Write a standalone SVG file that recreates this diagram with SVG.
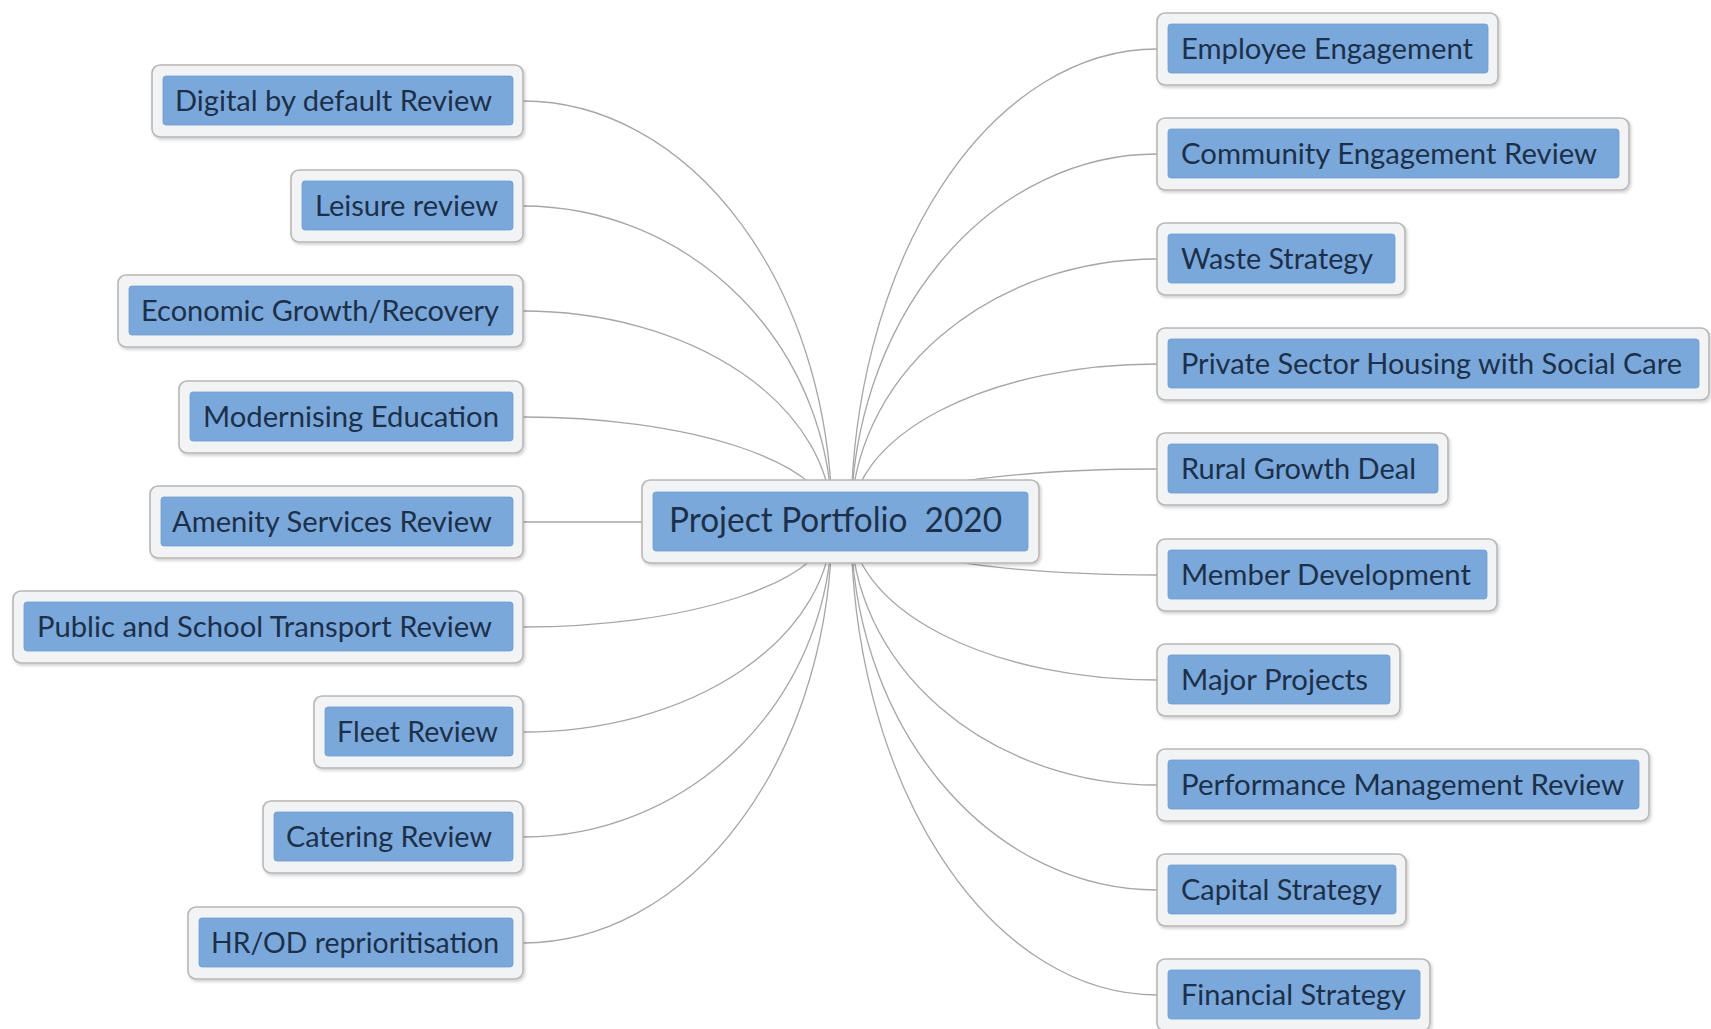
<svg xmlns="http://www.w3.org/2000/svg" width="1711" height="1029" viewBox="0 0 1711 1029">
<defs>
<style>
.outer{fill:#f2f3f5;stroke:#b9b7b4;stroke-width:1.6;filter:url(#sh)}
.inner{fill:#7ba8db;stroke:#6f9cd0;stroke-width:0.8}
.lbl{font-family:Lato,"Open Sans","Liberation Sans",sans-serif;font-size:29px;fill:#1c3049;white-space:pre}
.main{font-size:35px}
.con{fill:none;stroke:#a6a6a6;stroke-width:1.3}
</style>
<filter id="sh" x="-5%" y="-20%" width="110%" height="140%">
<feDropShadow dx="1.5" dy="2" stdDeviation="1.5" flood-color="#000" flood-opacity="0.18"/>
</filter>
</defs>
<rect width="1711" height="1029" fill="#ffffff"/>
<g id="connectors">
<path class="con" d="M523,101 A309,421 0 0 1 832,522"/>
<path class="con" d="M523,206 A309,316 0 0 1 832,522"/>
<path class="con" d="M523,311 A309,211 0 0 1 832,522"/>
<path class="con" d="M523,417 A309,105 0 0 1 832,522"/>
<path class="con" d="M523,522 L832,522"/>
<path class="con" d="M523,627 A309,105 0 0 0 832,522"/>
<path class="con" d="M523,732 A309,210 0 0 0 832,522"/>
<path class="con" d="M523,837 A309,315 0 0 0 832,522"/>
<path class="con" d="M523,943 A309,421 0 0 0 832,522"/>
<path class="con" d="M1157,49 A306,473 0 0 0 851,522"/>
<path class="con" d="M1157,154 A306,368 0 0 0 851,522"/>
<path class="con" d="M1157,259 A306,263 0 0 0 851,522"/>
<path class="con" d="M1157,364 A306,158 0 0 0 851,522"/>
<path class="con" d="M1157,469 A306,53 0 0 0 851,522"/>
<path class="con" d="M1157,575 A306,53 0 0 1 851,522"/>
<path class="con" d="M1157,680 A306,158 0 0 1 851,522"/>
<path class="con" d="M1157,785 A306,263 0 0 1 851,522"/>
<path class="con" d="M1157,890 A306,368 0 0 1 851,522"/>
<path class="con" d="M1157,995 A306,473 0 0 1 851,522"/>
</g>
<g id="center">
<rect class="outer" x="642" y="480" width="397" height="83" rx="8"/>
<rect class="inner" x="653" y="492" width="375" height="59" rx="3"/>
<text class="lbl main" x="669" y="532" textLength="333" lengthAdjust="spacingAndGlyphs">Project Portfolio  2020</text>
</g>
<g id="n-digital">
<rect class="outer" x="152" y="65" width="371" height="72" rx="8"/>
<rect class="inner" x="163" y="76" width="350" height="49" rx="3"/>
<text class="lbl" x="175" y="111" textLength="317" lengthAdjust="spacingAndGlyphs">Digital by default Review</text>
</g>
<g id="n-leisure">
<rect class="outer" x="291" y="170" width="232" height="72" rx="8"/>
<rect class="inner" x="302" y="181" width="211" height="49" rx="3"/>
<text class="lbl" x="315" y="216" textLength="183" lengthAdjust="spacingAndGlyphs">Leisure review</text>
</g>
<g id="n-economic">
<rect class="outer" x="118" y="275" width="405" height="72" rx="8"/>
<rect class="inner" x="129" y="286" width="384" height="49" rx="3"/>
<text class="lbl" x="141" y="321" textLength="358" lengthAdjust="spacingAndGlyphs">Economic Growth/Recovery</text>
</g>
<g id="n-modernising">
<rect class="outer" x="179" y="381" width="344" height="72" rx="8"/>
<rect class="inner" x="190" y="392" width="323" height="49" rx="3"/>
<text class="lbl" x="203" y="427" textLength="296" lengthAdjust="spacingAndGlyphs">Modernising Education</text>
</g>
<g id="n-amenity">
<rect class="outer" x="150" y="486" width="373" height="72" rx="8"/>
<rect class="inner" x="161" y="497" width="352" height="49" rx="3"/>
<text class="lbl" x="172" y="532" textLength="320" lengthAdjust="spacingAndGlyphs">Amenity Services Review</text>
</g>
<g id="n-transport">
<rect class="outer" x="13" y="591" width="510" height="72" rx="8"/>
<rect class="inner" x="24" y="602" width="489" height="49" rx="3"/>
<text class="lbl" x="37" y="637" textLength="455" lengthAdjust="spacingAndGlyphs">Public and School Transport Review</text>
</g>
<g id="n-fleet">
<rect class="outer" x="314" y="696" width="209" height="72" rx="8"/>
<rect class="inner" x="325" y="707" width="188" height="49" rx="3"/>
<text class="lbl" x="337" y="742" textLength="161" lengthAdjust="spacingAndGlyphs">Fleet Review</text>
</g>
<g id="n-catering">
<rect class="outer" x="263" y="801" width="260" height="72" rx="8"/>
<rect class="inner" x="274" y="812" width="239" height="49" rx="3"/>
<text class="lbl" x="286" y="847" textLength="206" lengthAdjust="spacingAndGlyphs">Catering Review</text>
</g>
<g id="n-hrod">
<rect class="outer" x="188" y="907" width="335" height="72" rx="8"/>
<rect class="inner" x="199" y="918" width="314" height="49" rx="3"/>
<text class="lbl" x="211" y="953" textLength="288" lengthAdjust="spacingAndGlyphs">HR/OD reprioritisation</text>
</g>
<g id="n-employee">
<rect class="outer" x="1157" y="13" width="341" height="72" rx="8"/>
<rect class="inner" x="1168" y="24" width="320" height="49" rx="3"/>
<text class="lbl" x="1181" y="59" textLength="292" lengthAdjust="spacingAndGlyphs">Employee Engagement</text>
</g>
<g id="n-community">
<rect class="outer" x="1157" y="118" width="472" height="72" rx="8"/>
<rect class="inner" x="1168" y="129" width="451" height="49" rx="3"/>
<text class="lbl" x="1181" y="164" textLength="416" lengthAdjust="spacingAndGlyphs">Community Engagement Review</text>
</g>
<g id="n-waste">
<rect class="outer" x="1157" y="223" width="248" height="72" rx="8"/>
<rect class="inner" x="1168" y="234" width="227" height="49" rx="3"/>
<text class="lbl" x="1181" y="269" textLength="192" lengthAdjust="spacingAndGlyphs">Waste Strategy</text>
</g>
<g id="n-private">
<rect class="outer" x="1157" y="328" width="552" height="72" rx="8"/>
<rect class="inner" x="1168" y="339" width="531" height="49" rx="3"/>
<text class="lbl" x="1181" y="374" textLength="501" lengthAdjust="spacingAndGlyphs">Private Sector Housing with Social Care</text>
</g>
<g id="n-rural">
<rect class="outer" x="1157" y="433" width="291" height="72" rx="8"/>
<rect class="inner" x="1168" y="444" width="270" height="49" rx="3"/>
<text class="lbl" x="1181" y="479" textLength="235" lengthAdjust="spacingAndGlyphs">Rural Growth Deal</text>
</g>
<g id="n-member">
<rect class="outer" x="1157" y="539" width="340" height="72" rx="8"/>
<rect class="inner" x="1168" y="550" width="319" height="49" rx="3"/>
<text class="lbl" x="1181" y="585" textLength="290" lengthAdjust="spacingAndGlyphs">Member Development</text>
</g>
<g id="n-major">
<rect class="outer" x="1157" y="644" width="243" height="72" rx="8"/>
<rect class="inner" x="1168" y="655" width="222" height="49" rx="3"/>
<text class="lbl" x="1181" y="690" textLength="187" lengthAdjust="spacingAndGlyphs">Major Projects</text>
</g>
<g id="n-performance">
<rect class="outer" x="1157" y="749" width="492" height="72" rx="8"/>
<rect class="inner" x="1168" y="760" width="471" height="49" rx="3"/>
<text class="lbl" x="1181" y="795" textLength="443" lengthAdjust="spacingAndGlyphs">Performance Management Review</text>
</g>
<g id="n-capital">
<rect class="outer" x="1157" y="854" width="249" height="72" rx="8"/>
<rect class="inner" x="1168" y="865" width="228" height="49" rx="3"/>
<text class="lbl" x="1181" y="900" textLength="201" lengthAdjust="spacingAndGlyphs">Capital Strategy</text>
</g>
<g id="n-financial">
<rect class="outer" x="1157" y="959" width="273" height="72" rx="8"/>
<rect class="inner" x="1168" y="970" width="252" height="49" rx="3"/>
<text class="lbl" x="1181" y="1005" textLength="225" lengthAdjust="spacingAndGlyphs">Financial Strategy</text>
</g>
</svg>
